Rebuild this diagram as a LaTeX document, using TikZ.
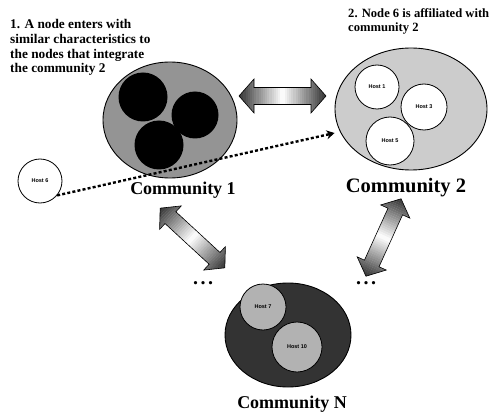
\documentclass[tikz,border=0pt]{standalone}
\usepackage{fontspec}
\setmainfont{Liberation Serif}
\newfontfamily\hostfont{Liberation Sans}
\usetikzlibrary{shapes.geometric,calc,arrows.meta}
% #1 half length, #2 half shaft width, #3 half head width, #4 head length
\newcommand\gradarrow[4]{%
  \begin{scope}
    \clip (-#1,0) -- (-#1+#4,#3) -- (-#1+#4,#2) -- (#1-#4,#2) -- (#1-#4,#3) -- (#1,0)
      -- (#1-#4,-#3) -- (#1-#4,-#2) -- (-#1+#4,-#2) -- (-#1+#4,-#3) -- cycle;
    \foreach \i in {0,...,39} {
      \pgfmathtruncatemacro\shadeval{78*abs(\i-19.5)/19.5}
      \fill[black!\shadeval] ({-#1+2*#1*\i/40},{-#3-1}) rectangle ({-#1+2*#1*(\i+1.1)/40},{#3+1});
    }
  \end{scope}
  \draw[line width=0.6pt, line join=miter] (-#1,0) -- (-#1+#4,#3) -- (-#1+#4,#2) -- (#1-#4,#2) -- (#1-#4,#3) -- (#1,0)
      -- (#1-#4,-#3) -- (#1-#4,-#2) -- (-#1+#4,-#2) -- (-#1+#4,-#3) -- cycle;
}
\begin{document}
\begin{tikzpicture}[x=1pt,y=-1pt,
  community/.style={ellipse, draw=black, line width=0.9pt, inner sep=0pt},
  blob/.style={circle, fill=black, inner sep=0pt},
  host/.style={circle, draw=black, line width=0.8pt, inner sep=0pt, font=\hostfont\bfseries\fontsize{5.5}{6}\selectfont},
  commlabel/.style={font=\bfseries\fontsize{18}{18}\selectfont},
  note/.style={align=left, anchor=north west, inner sep=0pt, font=\bfseries\fontsize{13.3}{14.8}\selectfont},
  dots/.style={font=\bfseries\fontsize{20}{20}\selectfont, inner sep=0pt},
  move/.style={line width=2.4pt, dash pattern=on 3pt off 2.2pt, -{Stealth[length=8pt,width=9pt]}}
]
\useasboundingbox (0,0) rectangle (492,414);

% Community 1
\node[community, fill=black!42, minimum width=134pt, minimum height=116pt] (c1) at (170,120) {};
\node[blob, minimum size=49pt] (b1) at (143,97) {};
\node[blob, minimum size=47pt] (b2) at (195,115) {};
\node[blob, minimum size=49pt] (b3) at (159,145) {};
\node[commlabel] (l1) at (183,190) {Community 1};

% Community 2
\node[community, fill=black!20, minimum width=152pt, minimum height=122pt] (c2) at (411,109) {};
\node[host, fill=white, minimum size=44pt] (h1) at (377,87) {Host 1};
\node[host, fill=white, minimum size=46pt] (h3) at (424,107) {Host 3};
\node[host, fill=white, minimum size=48pt] (h5) at (390,141) {Host 5};
\node[commlabel, font=\bfseries\fontsize{20.5}{20.5}\selectfont] (l2) at (406,188) {Community 2};

% Community N
\node[community, fill=black!80, minimum width=126pt, minimum height=104pt] (cn) at (288,335) {};
\node[host, fill=black!30, minimum size=46pt] (h7) at (263,307) {Host 7};
\node[host, fill=black!30, minimum size=50pt] (h10) at (297,347) {Host 10};
\node[commlabel] (ln) at (292,404) {Community N};

% New node
\node[host, fill=white, minimum size=44pt] (h6) at (40,181) {Host 6};

% Notes
\node[note] (n1) at (10,19) {1. A node enters with\\similar characteristics to\\the nodes that integrate\\the community 2};
\node[note, font=\bfseries\fontsize{12.6}{14.8}\selectfont] (n2) at (348,8) {2. Node 6 is affiliated with\\community 2};

% Links between communities (shaded double arrows)
\coordinate (a1s) at (239,96);
\coordinate (a1e) at (326,96);
\coordinate (a2s) at (160,208);
\coordinate (a2e) at (225,268);
\coordinate (a3s) at (401,199);
\coordinate (a3e) at (366,276);
\begin{scope}[shift={($(a1s)!0.5!(a1e)$)}]
  \gradarrow{43.5}{8.5}{17}{15}
\end{scope}
\begin{scope}[shift={($(a2s)!0.5!(a2e)$)}, rotate=-42.7]
  \gradarrow{44}{8}{16}{14}
\end{scope}
\begin{scope}[shift={($(a3s)!0.5!(a3e)$)}, rotate=-114.4]
  \gradarrow{42.5}{8}{16}{14}
\end{scope}

\node[dots] (d1) at (203,283) {.\hspace{2.5pt}.\hspace{2.5pt}.};
\node[dots] (d2) at (366,283) {.\hspace{2.5pt}.\hspace{2.5pt}.};

% Node 6 joins community 2
\draw[move] (h6.-40) -- (c2.west |- 0,133);
\end{tikzpicture}
\end{document}
